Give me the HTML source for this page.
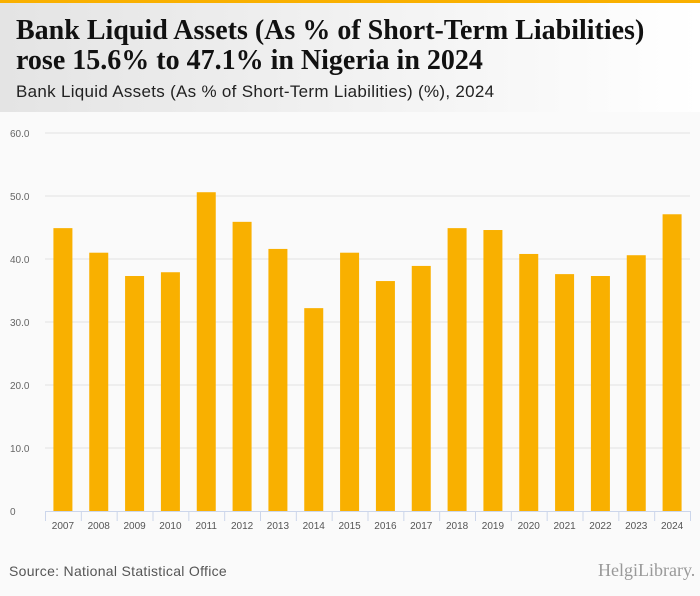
<!DOCTYPE html>
<html><head><meta charset="utf-8"><style>
body{margin:0;width:700px;height:596px;background:#fafafa;font-family:"Liberation Sans",sans-serif;overflow:hidden;position:relative}
#hdr{position:absolute;left:0;top:0;width:700px;height:112px;background:linear-gradient(90deg,#e4e4e4,#f4f4f4 60%,#fff);border-top:3px solid #f9b000;box-sizing:border-box}
h1{position:absolute;left:16px;top:13px;margin:0;font-family:"Liberation Serif",serif;font-weight:bold;font-size:28px;line-height:30px;color:#111;white-space:nowrap}
#sub{position:absolute;left:16px;top:79px;font-size:17px;letter-spacing:0.3px;color:#222;white-space:nowrap}
#src{position:absolute;left:9px;top:563px;font-size:14px;letter-spacing:0.3px;color:#555}
#logo{position:absolute;left:598px;top:560px;font-family:"Liberation Serif",serif;font-size:18px;color:#999}
</style></head><body>
<div id="hdr">
<h1>Bank Liquid Assets (As % of Short-Term Liabilities)<br>rose 15.6% to 47.1% in Nigeria in 2024</h1>
<div id="sub">Bank Liquid Assets (As % of Short-Term Liabilities) (%), 2024</div>
</div>
<svg id="chart" width="700" height="596" style="position:absolute;left:0;top:0"></svg>
<div id="src">Source: National Statistical Office</div>
<div id="logo">HelgiLibrary.</div>
<script>
const categories=["2007","2008","2009","2010","2011","2012","2013","2014","2015","2016","2017","2018","2019","2020","2021","2022","2023","2024"];
const values=[44.9,41.0,37.3,37.9,50.6,45.9,41.6,32.2,41.0,36.5,38.9,44.9,44.6,40.8,37.6,37.3,40.6,47.1];
const ticks=[0,10,20,30,40,50,60];
const tickLabels=["0","10.0","20.0","30.0","40.0","50.0","60.0"];
const svg=document.getElementById('chart');const NS='http://www.w3.org/2000/svg';
const x0=45,x1=690,y0=511,y1=133,bw=(x1-x0)/categories.length;
const y=v=>y0-(v/60)*(y0-y1);const x=i=>x0+bw*i;
function mk(t,a){const e=document.createElementNS(NS,t);for(const k in a)e.setAttribute(k,a[k]);svg.appendChild(e);return e;}
ticks.forEach((t,i)=>{
 if(t>0){const g=mk('line',{x1:x0,x2:x1,y1:y(t),y2:y(t),stroke:'#e3e3e3'});
 
 }
 const l=mk('text',{x:10,y:y(t)+4,'font-size':10,fill:'#666'});l.textContent=tickLabels[i];
 
 
});
const ax=mk('line',{x1:x0,x2:x1,y1:y0+0.5,y2:y0+0.5,stroke:'#ccd6eb'});


categories.forEach((c,i)=>{
 const tk=mk('line',{x1:x(i)+0.5,x2:x(i)+0.5,y1:y0,y2:y0+10,stroke:'#ccd6eb'});
 
 
 const b=mk('rect',{x:x(i)+bw/2-9.5,y:y(values[i]),width:19,height:y0-y(values[i]),fill:'#f9b000'});
 
 
 const l=mk('text',{x:x(i)+bw/2,y:y0+18,'font-size':10,fill:'#555','text-anchor':'middle'});l.textContent=c;
 
 
});
const te=mk('line',{x1:x1+0.5,x2:x1+0.5,y1:y0,y2:y0+10,stroke:'#ccd6eb'});


</script>
</body></html>
